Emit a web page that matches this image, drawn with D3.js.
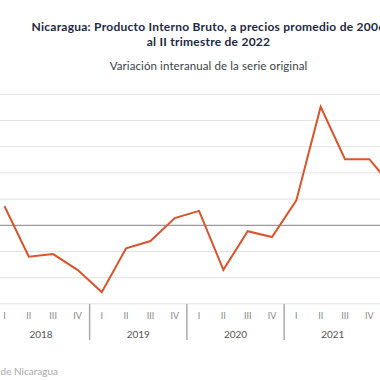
<!DOCTYPE html>
<html>
<head>
<meta charset="utf-8">
<script src="https://cdn.jsdelivr.net/npm/d3@7"></script>
<style>
  body { margin: 0; background: #fff; }
  svg { display: block; font-family: "Lato", "Noto Sans", sans-serif; }
</style>
</head>
<body>
<div id="chart"></div>
<script>
// Quarterly data (year-on-year variation, %)
const years = ["2018", "2019", "2020", "2021"];
const quarters = ["I", "II", "III", "IV"];
const values = [2.9, -4.8, -4.4, -6.8, -10.2, -3.5, -2.4, 1.1, 2.2, -6.8, -0.9, -1.8, 3.8, 18.1, 10.1, 10.1, 5.7];
const yTicks = [-12, -8, -4, 0, 4, 8, 12, 16, 20];

const width = 380, height = 380;

const svg = d3.select("#chart")
    .append("svg")
    .attr("width", width)
    .attr("height", height);

// x: one step per quarter
const x = d3.scaleLinear()
    .domain([0, 15])
    .range([4.5, 369.3]);

const y = d3.scaleLinear()
    .domain([-12, 20])
    .range([303.9, 94.3]);

// Titles
svg.append("text")
    .attr("x", 208.5).attr("y", 31)
    .attr("text-anchor", "middle")
    .style("font-size", "12px").style("font-weight", "bold")
    .style("letter-spacing", "0.25px")
    .style("fill", "#1d2a44")
    .text("Nicaragua: Producto Interno Bruto, a precios promedio de 2006");

svg.append("text")
    .attr("x", 208.5).attr("y", 46)
    .attr("text-anchor", "middle")
    .style("font-size", "12px").style("font-weight", "bold")
    .style("letter-spacing", "0.25px")
    .style("fill", "#1d2a44")
    .text("al II trimestre de 2022");

svg.append("text")
    .attr("x", 208.5).attr("y", 70)
    .attr("text-anchor", "middle")
    .style("font-size", "11.5px")
    .style("letter-spacing", "0.1px")
    .style("fill", "#3a3f48")
    .text("Variación interanual de la serie original");

// Gridlines
svg.append("g")
    .selectAll("line")
    .data(yTicks)
    .enter().append("line")
    .attr("x1", 0).attr("x2", width)
    .attr("y1", d => y(d)).attr("y2", d => y(d))
    .attr("stroke", d => d === 0 ? "#999" : "#e2e2e2")
    .attr("stroke-width", d => d === 0 ? 1.2 : 1);

// Quarter labels
const qData = d3.range(years.length * 4).map(i => ({ i, q: quarters[i % 4] }));
svg.append("g")
    .selectAll("text")
    .data(qData)
    .enter().append("text")
    .attr("x", d => x(d.i))
    .attr("y", 319)
    .attr("text-anchor", "middle")
    .style("font-size", "9px")
    .style("fill", "#888")
    .text(d => d.q);

// Year labels and separators
svg.append("g")
    .selectAll("text")
    .data(years)
    .enter().append("text")
    .attr("x", (d, i) => x(i * 4 + 1.5))
    .attr("y", 338)
    .attr("text-anchor", "middle")
    .style("font-size", "10px")
    .style("fill", "#555")
    .text(d => d);

svg.append("g")
    .selectAll("line")
    .data(d3.range(1, years.length + 1))
    .enter().append("line")
    .attr("x1", d => x(d * 4 - 0.5)).attr("x2", d => x(d * 4 - 0.5))
    .attr("y1", 304).attr("y2", 340)
    .attr("stroke", "#aaa")
    .attr("stroke-width", 1.5);

// Series line
const line = d3.line()
    .x((d, i) => x(i))
    .y(d => y(d));

svg.append("path")
    .datum(values)
    .attr("d", line)
    .attr("fill", "none")
    .attr("stroke", "#d9532b")
    .attr("stroke-width", 2);

// Source
svg.append("text")
    .attr("x", 58).attr("y", 375)
    .attr("text-anchor", "end")
    .style("font-size", "10px")
    .style("fill", "#a8a8a8")
    .text("Fuente: Banco Central de Nicaragua");
</script>
</body>
</html>
